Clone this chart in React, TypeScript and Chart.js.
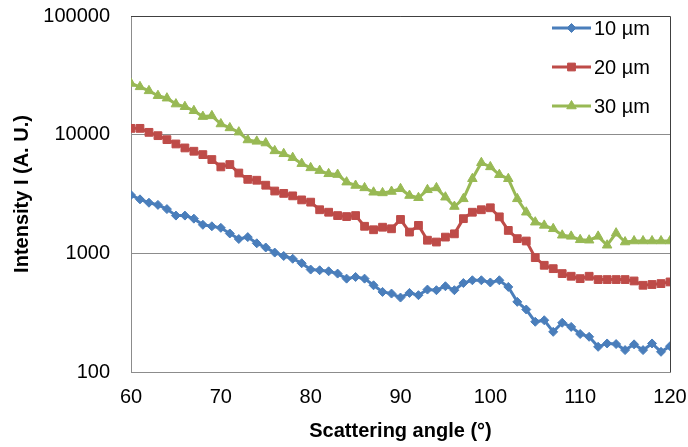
import React, { useEffect, useRef } from "react";
import { Chart, registerables } from "chart.js";
import { drawPoint } from "chart.js/helpers";

Chart.register(...registerables);

const angles = [
  60, 61, 62, 63, 64, 65, 66, 67, 68, 69,
  70, 71, 72, 73, 74, 75, 76, 77, 78, 79,
  80, 81, 82, 83, 84, 85, 86, 87, 88, 89,
  90, 91, 92, 93, 94, 95, 96, 97, 98, 99,
  100, 101, 102, 103, 104, 105, 106, 107, 108, 109,
  110, 111, 112, 113, 114, 115, 116, 117, 118, 119, 120,
];

const intensity10um = [
  3100, 2850, 2670, 2560, 2360, 2080, 2080, 1960, 1740, 1690,
  1640, 1470, 1320, 1370, 1215, 1120, 1015, 950, 900, 825,
  730, 720, 706, 675, 612, 632, 612, 538, 473, 458,
  424, 464, 444, 495, 489, 528, 489, 562, 593, 593,
  568, 593, 521, 390, 336, 265, 273, 218, 260, 240,
  209, 198, 163, 174, 172, 153, 171, 153, 174, 148, 165,
];

const intensity20um = [
  11300, 11300, 10460, 9810, 9080, 8350, 7730, 7250, 6790, 6170,
  5350, 5600, 4750, 4200, 4130, 3750, 3350, 3200, 3050, 2820,
  2700, 2330, 2220, 2080, 2040, 2080, 1690, 1580, 1660, 1610,
  1930, 1510, 1720, 1290, 1245, 1370, 1460, 1960, 2220, 2330,
  2420, 2030, 1560, 1330, 1270, 920, 793, 743, 675, 641,
  612, 641, 601, 601, 601, 601, 585, 538, 546, 556, 574,
];

const intensity30um = [
  27000, 25300, 23400, 21300, 20300, 18100, 17200, 15900, 14200, 14400,
  12300, 11400, 10500, 9020, 8780, 8500, 7300, 6900, 6400, 5700,
  5250, 4980, 4680, 4610, 3980, 3730, 3560, 3270, 3230, 3320,
  3500, 3070, 2940, 3430, 3560, 2970, 2480, 2880, 4250, 5800,
  5350, 4600, 4250, 2880, 2220, 1830, 1720, 1610, 1420, 1390,
  1300, 1290, 1390, 1170, 1480, 1245, 1270, 1270, 1270, 1270, 1270,
];

const seriesLabels = ["10 µm", "20 µm", "30 µm"];
const xTicks = [60, 70, 80, 90, 100, 110, 120];
const yTicks = [100, 1000, 10000, 100000];

const FONT = "'Liberation Sans', Arial, sans-serif";
const FS = 20;

const legendPlugin = {
  id: "lineMarkerLegend",
  afterDraw(chart: any) {
    const { ctx, chartArea } = chart;
    const x0 = chartArea.right - 118;
    const lineLen = 39;
    ctx.save();
    chart.data.datasets.forEach((ds: any, i: number) => {
      const y = chartArea.top + 12 + i * 39;
      ctx.strokeStyle = ds.borderColor;
      ctx.lineWidth = ds.borderWidth;
      ctx.beginPath();
      ctx.moveTo(x0, y);
      ctx.lineTo(x0 + lineLen, y);
      ctx.stroke();
      ctx.fillStyle = ds.pointBackgroundColor;
      ctx.strokeStyle = ds.pointBorderColor;
      ctx.lineWidth = 1;
      drawPoint(ctx, { pointStyle: ds.pointStyle, radius: ds.pointRadius, rotation: 0, borderWidth: 1 }, x0 + lineLen / 2, y);
      ctx.fillStyle = "#000";
      ctx.font = `${FS}px ${FONT}`;
      ctx.textAlign = "left";
      ctx.textBaseline = "middle";
      ctx.fillText(ds.label, x0 + lineLen + 3, y + 1);
    });
    ctx.restore();
  },
};

const framePlugin = {
  id: "frame",
  afterDraw(chart: any) {
    const { ctx, chartArea } = chart;
    ctx.save();
    ctx.strokeStyle = "#404040";
    ctx.lineWidth = 1;
    ctx.beginPath();
    ctx.moveTo(chartArea.left, chartArea.top + 0.5);
    ctx.lineTo(chartArea.right + 0.5, chartArea.top + 0.5);
    ctx.lineTo(chartArea.right + 0.5, chartArea.bottom);
    ctx.stroke();
    ctx.restore();
  },
};

const zeroPad = (s: any) => {
  s.paddingTop = 0;
  s.paddingBottom = 0;
  s.paddingLeft = 0;
  s.paddingRight = 0;
};

export default function App() {
  const canvasRef = useRef<HTMLCanvasElement | null>(null);

  useEffect(() => {
    if (!canvasRef.current) return;
    const mk = (vals: number[]) => angles.map((a, i) => ({ x: a, y: vals[i] }));
    const chart = new Chart(canvasRef.current, {
      type: "line",
      data: {
        datasets: [
          {
            label: seriesLabels[0],
            data: mk(intensity10um),
            borderColor: "#4A7EBB",
            backgroundColor: "#4A7EBB",
            pointBackgroundColor: "#4A7EBB",
            pointBorderColor: "#4A7EBB",
            borderWidth: 3,
            pointStyle: "rectRot",
            pointRadius: 4.5,
            pointBorderWidth: 1,
            tension: 0,
          },
          {
            label: seriesLabels[1],
            data: mk(intensity20um),
            borderColor: "#BE4B48",
            backgroundColor: "#BE4B48",
            pointBackgroundColor: "#BE4B48",
            pointBorderColor: "#BE4B48",
            borderWidth: 3,
            pointStyle: "rect",
            pointRadius: 5.5,
            pointBorderWidth: 1,
            tension: 0,
          },
          {
            label: seriesLabels[2],
            data: mk(intensity30um),
            borderColor: "#98B954",
            backgroundColor: "#98B954",
            pointBackgroundColor: "#98B954",
            pointBorderColor: "#98B954",
            borderWidth: 3,
            pointStyle: "triangle",
            pointRadius: 5.5,
            pointBorderWidth: 1,
            tension: 0,
          },
        ],
      },
      options: {
        responsive: false,
        animation: false,
        layout: { padding: { top: 16, right: 18, left: 0, bottom: 0 } },
        plugins: { legend: { display: false }, tooltip: { enabled: false } },
        scales: {
          x: {
            type: "linear",
            min: 60,
            max: 120,
            afterBuildTicks: (s: any) => {
              s.ticks = xTicks.map((v) => ({ value: v }));
            },
            afterFit: (s: any) => {
              s.height = 75;
              zeroPad(s);
            },
            grid: { display: false, drawTicks: false },
            border: { color: "#8C8C8C", width: 1 },
            ticks: {
              padding: 13,
              color: "#000",
              font: { family: FONT, size: FS },
              maxRotation: 0,
              callback: (v: any) => String(v),
            },
            title: {
              display: true,
              text: "Scattering angle (°)",
              color: "#000",
              font: { family: FONT, size: FS, weight: "bold" },
              padding: { top: 0, bottom: 4 },
            },
          },
          y: {
            type: "logarithmic",
            min: 100,
            max: 100000,
            afterBuildTicks: (s: any) => {
              s.ticks = yTicks.map((v) => ({ value: v }));
            },
            afterFit: (s: any) => {
              s.width = 131;
              zeroPad(s);
            },
            grid: { color: "#8C8C8C", drawTicks: false, lineWidth: 1 },
            border: { color: "#8C8C8C", width: 1 },
            ticks: {
              padding: 21,
              color: "#000",
              font: { family: FONT, size: FS },
              callback: (v: any) => String(v),
            },
            title: {
              display: true,
              text: "Intensity I (A. U.)",
              color: "#000",
              font: { family: FONT, size: FS, weight: "bold" },
              padding: { top: 10, bottom: 0 },
            },
          },
        },
      },
      plugins: [framePlugin, legendPlugin],
    } as any);
    return () => chart.destroy();
  }, []);

  return (
    <div style={{ position: "fixed", left: 0, top: 0, width: 688, height: 447, background: "#fff" }}>
      <canvas ref={canvasRef} width={688} height={447} style={{ display: "block" }} />
    </div>
  );
}
